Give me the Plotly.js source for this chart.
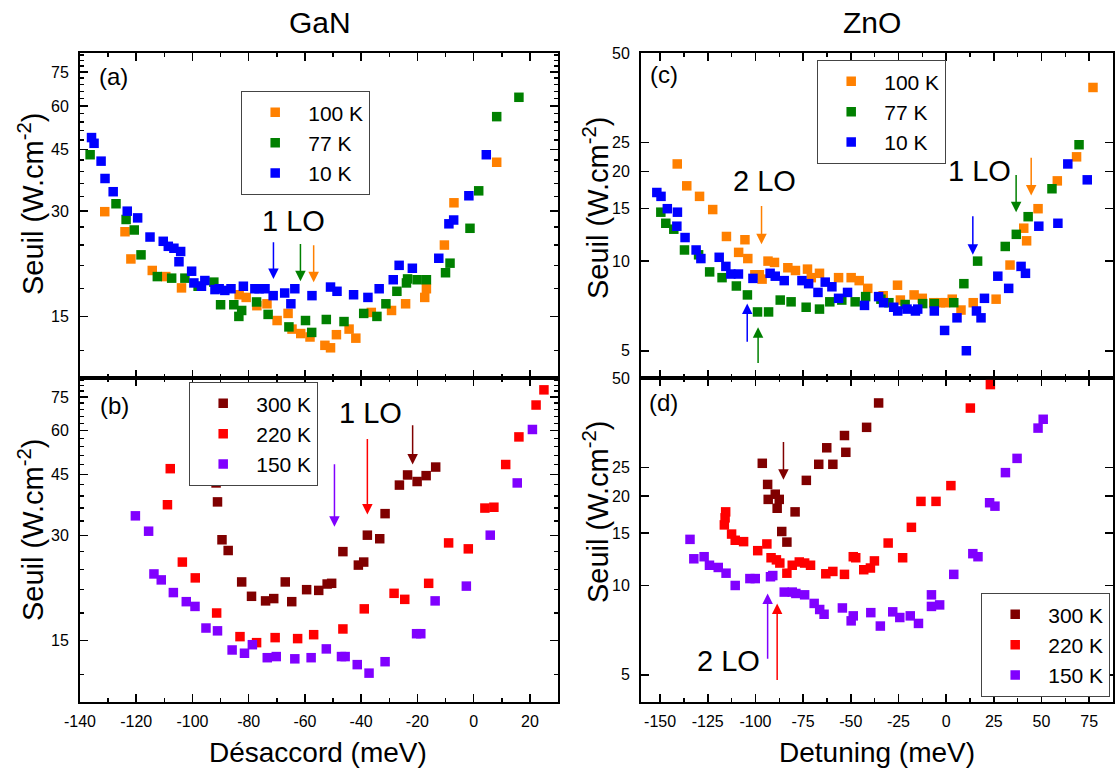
<!DOCTYPE html>
<html><head><meta charset="utf-8">
<script src="https://cdn.plot.ly/plotly-3.0.1.min.js"></script>
<style>body{margin:0;background:#fff}#chart{width:1115px;height:775px}</style>
</head><body><div id="chart"></div>
<script>
// ---------- DATA ----------
// (a) GaN, low temperature
const a100x = [-131.2,-124.0,-121.9,-114.3,-109.5,-103.9,-83.4,-80.9,-77.1,-73.5,-69.9,-66.0,-64.6,-61.5,-58.2,-52.9,-50.9,-48.8,-44.3,-41.9,-36.4,-29.2,-24.2,-17.4,-16.8,-10.4,-7.0,8.2];
const a100y = [29.9,26.2,21.9,20.3,19.5,18.1,17.3,17.0,16.1,16.3,14.6,15.3,13.8,13.4,13.1,12.4,12.2,13.3,13.8,13.0,15.4,15.6,16.3,17.0,18.0,24.0,31.7,41.4];
const a77x = [-136.4,-127.2,-123.6,-120.7,-118.3,-112.5,-107.4,-102.7,-98.0,-92.4,-90.0,-85.3,-83.5,-82.5,-77.2,-73.1,-65.7,-59.8,-57.6,-52.4,-46.1,-39.1,-34.4,-31.2,-27.3,-23.9,-23.5,-20.1,-16.8,-10.0,-8.4,-1.3,1.8,8.2,16.1];
const a77y = [43.5,31.5,28.4,26.5,22.5,19.5,19.3,19.3,18.3,18.8,16.2,16.2,15.0,15.6,16.5,15.2,14.0,14.6,13.5,14.7,14.5,15.3,15.0,16.3,17.7,18.7,19.2,19.1,19.1,20.0,21.3,26.8,34.3,55.9,63.5];
const a10x = [-135.9,-135.0,-132.5,-131.1,-128.2,-123.2,-119.5,-115.1,-110.4,-108.6,-106.6,-104.2,-104.8,-100.3,-99.5,-96.8,-95.6,-92.0,-90.5,-88.5,-86.3,-81.9,-77.8,-76.3,-74.2,-71.3,-67.2,-65.0,-63.6,-57.5,-50.9,-48.6,-42.7,-37.6,-33.6,-28.6,-26.5,-21.8,-12.4,-8.8,-7.1,-1.7,4.5];
const a10y = [48.7,46.9,41.7,37.2,34.1,30.0,28.7,25.3,24.6,23.8,23.5,23.0,21.5,20.2,18.7,18.3,19.0,17.9,18.0,17.8,18.0,18.3,18.0,18.0,18.0,17.2,17.5,16.3,18.0,17.2,18.2,17.7,17.3,17.0,18.0,19.1,21.0,20.6,22.0,27.6,28.3,33.2,43.5];
// (b) GaN, high temperature
const b300x = [-91.6,-91.1,-89.5,-87.3,-82.5,-79.0,-74.0,-71.1,-67.0,-64.7,-59.4,-55.1,-52.1,-50.5,-46.5,-41.0,-39.1,-37.8,-33.4,-31.5,-26.4,-23.5,-20.1,-16.9,-13.5];
const b300y = [42.5,37.5,29.2,27.2,22.1,20.1,19.5,19.8,22.1,19.4,21.0,20.9,21.8,21.9,27.0,24.7,25.2,30.1,29.4,34.7,41.9,44.8,42.9,44.6,47.2];
const b220x = [-107.9,-108.9,-103.6,-99.0,-91.4,-83.1,-77.2,-70.6,-62.6,-56.9,-46.5,-38.9,-28.3,-24.5,-16.0,-8.9,-1.9,4.0,7.2,11.4,16.1,22.2,25.0];
const b220y = [46.7,36.8,25.2,22.7,18.0,15.4,14.8,15.3,15.2,15.6,16.2,18.5,20.5,19.7,21.9,28.6,27.5,36.0,36.2,48.0,57.6,71.1,78.6];
const b150x = [-120.3,-115.6,-113.7,-111.1,-106.8,-102.2,-99.1,-95.2,-91.1,-85.9,-81.5,-78.7,-73.4,-70.2,-63.6,-57.8,-52.4,-47.0,-45.7,-41.4,-37.2,-31.5,-20.3,-18.8,-13.7,-2.6,5.9,15.5,20.9];
const b150y = [34.2,30.9,23.3,22.4,20.6,19.4,18.8,16.3,16.0,14.1,13.8,14.6,13.4,13.5,13.3,13.4,14.2,13.5,13.5,12.8,12.1,13.05,15.7,15.7,19.5,21.5,30.1,42.5,60.5];
// (c) ZnO, low temperature
const c100x = [-141,-136,-129.3,-122.4,-115.2,-108.8,-105.5,-104,-100.3,-98,-96.5,-93.4,-90,-83,-79,-72.7,-70.7,-66.4,-56.4,-49.8,-45.6,-41.1,-33,-25.5,-24,-16.8,-12.5,-6.5,-3,-0.3,3.2,7.8,14.2,26.2,33.5,40.7,42.2,48.2,58.3,68.4,77];
const c100y = [21.2,17.9,16.5,14.9,12.1,10.7,11.8,10.2,9.0,9.0,8.7,10.0,9.9,9.5,9.3,9.4,8.8,9.1,8.8,8.8,8.6,8.1,7.65,8.3,7.4,7.7,7.5,7.25,7.25,7.25,7.45,6.85,7.25,7.45,9.7,12.9,11.7,15.0,18.6,22.4,38.3];
const c77x = [-149.6,-147,-142.8,-137.2,-129.8,-124,-117.5,-110,-104.2,-98.9,-93.1,-87,-81.3,-73.4,-66.4,-61,-54.7,-47.7,-42.2,-34.2,-30,-21.5,-12.3,-6.2,4,9.3,16.5,31,36.8,43,55.5,69.7];
const c77y = [14.6,13.4,12.8,10.9,10.5,9.2,8.8,8.25,7.7,6.75,6.75,7.4,7.3,7.0,6.9,7.3,7.4,7.3,7.6,7.45,7.25,7.15,7.2,7.2,7.25,8.4,10.0,11.2,12.3,14.1,17.5,24.6];
const c10x = [-151.7,-149.5,-146.2,-140.9,-141.2,-136.9,-131.1,-128.6,-119,-115.5,-112.9,-108.9,-101.3,-92.3,-89.6,-84.9,-75.6,-72.1,-67.2,-63.4,-59.9,-56.4,-51.7,-42.8,-35.4,-32.8,-27.5,-25.4,-20.5,-16.1,-14.9,-6.2,-0.8,5.7,10.6,15.9,18.3,20.1,27.1,32.8,39.3,41.6,48.6,58.6,63.8,74];
const c10y = [17.0,16.5,15.0,14.6,13.1,12.0,10.9,10.2,10.3,9.6,9.05,9.05,8.75,9.1,8.9,8.6,8.6,8.4,7.85,8.5,8.2,7.5,7.85,7.1,7.6,7.25,7.0,6.8,6.9,6.8,6.9,6.8,5.85,6.45,5.0,6.8,6.45,7.5,8.9,8.1,9.6,9.1,13.1,13.4,21.2,18.75];
// (d) ZnO, high temperature
const d300x = [-96.4,-93.6,-93.3,-89.6,-87.5,-88.6,-86.2,-83.5,-79.2,-73.3,-66.8,-62.6,-59.4,-53.3,-52.6,-41.7,-35.4];
const d300y = [25.8,21.9,19.5,20.3,19.5,18.2,15.2,14.0,17.7,22.6,25.6,29.1,25.6,32.0,28.1,34.1,41.2];
const d220x = [-115.6,-115.9,-116.3,-112.5,-110.6,-106.2,-98.8,-94.0,-91.8,-89.0,-87.2,-83.5,-80.7,-77.0,-74.2,-71.1,-63.1,-59.4,-53.3,-48.7,-47.4,-43.2,-39.7,-37.6,-30.4,-22.8,-18.2,-13.2,-5.3,2.5,12.7,23.2];
const d220y = [17.7,16.9,16.0,14.9,14.2,14.05,13.1,13.8,12.4,12.2,11.9,11.0,11.7,12.0,11.9,11.7,10.95,11.15,10.9,12.5,12.4,11.3,11.45,12.1,13.9,12.4,15.7,19.2,19.2,21.7,39.6,47.5];
const d150x = [-134.3,-132.3,-126.9,-124.1,-119.5,-115.4,-110.6,-102.9,-100.1,-92.1,-90.9,-84.9,-80.7,-78.8,-74.2,-69.2,-66.3,-64.0,-54.4,-49.8,-48.7,-39.5,-34.5,-28.0,-24.3,-18.8,-14.5,-7.7,-7.7,-3.4,4.0,14.0,16.7,22.8,25.6,31.1,37.2,48.2,50.9];
const d150y = [14.3,12.3,12.5,11.7,11.5,11.0,10.0,10.55,10.55,10.7,10.8,9.5,9.5,9.4,9.3,8.7,8.3,8.0,8.4,7.6,7.9,8.1,7.3,8.15,7.8,7.9,7.45,9.3,8.5,8.6,10.9,12.8,12.5,19.0,18.5,24.0,26.8,33.9,36.3];

// LO-phonon arrows: x position, tail value, head value
const aArrX = [-71.2,-61.6,-56.9], aArrFrom = [24.7,24.4,24.2], aArrTo = [19.2,18.9,18.8];
const bArrX = [-49.5,-37.8,-21.7], bArrFrom = [48.6,57.4,62.8], bArrTo = [31.8,34.5,48.0];
const cArrX = [-96.8,-104.3,-98.6,14.0,36.7,44.6], cArrFrom = [15.5,5.3,4.5,14.3,19.7,22.5], cArrTo = [11.4,7.2,6.0,10.5,14.6,16.6];
const dArrX = [-85.3,-93.6,-88.6], dArrFrom = [30.8,5.6,4.75], dArrTo = [22.7,9.4,8.7];

// tick labels
const xTickL = [-140,-120,-100,-80,-60,-40,-20,0,20];
const xTickR = [-150,-125,-100,-75,-50,-25,0,25,50,75];
const yTickL = [15,30,45,60,75];
const yMinorL = [12,18,21,24,27,33,36,39,42,48,51,54,57,63,66,69,72,78,81,84];
const yTickR = [5,10,15,20,25,50];

// ---------- STYLE ----------
const F = 'Liberation Sans, Arial, sans-serif';
const COL = {o:'#FF8000', g:'#008000', b:'#0000FF', dr:'#800000', r:'#FF0000', p:'#8000FF'};
const W = 1115, H = 775;
const lg = v => Math.log10(v);

function sc(x, y, name, color, n, leg) {
  return {type:'scatter', mode:'markers', x:x, y:y, name:name,
    xaxis:'x'+(n===1?'':n), yaxis:'y'+(n===1?'':n), legend:leg,
    marker:{symbol:'square', size:9.5, color:color, line:{width:0}}};
}
const traces = [
  sc(a100x,a100y,'100 K',COL.o,1,'legend'),
  sc(a77x,a77y,'77 K',COL.g,1,'legend'),
  sc(a10x,a10y,'10 K',COL.b,1,'legend'),
  sc(b300x,b300y,'300 K',COL.dr,2,'legend2'),
  sc(b220x,b220y,'220 K',COL.r,2,'legend2'),
  sc(b150x,b150y,'150 K',COL.p,2,'legend2'),
  sc(c100x,c100y,'100 K',COL.o,3,'legend3'),
  sc(c77x,c77y,'77 K',COL.g,3,'legend3'),
  sc(c10x,c10y,'10 K',COL.b,3,'legend3'),
  sc(d300x,d300y,'300 K',COL.dr,4,'legend4'),
  sc(d220x,d220y,'220 K',COL.r,4,'legend4'),
  sc(d150x,d150y,'150 K',COL.p,4,'legend4')
];

const dxL = [80/W, 558/W], dxR = [641/W, 1113/W];
const yTop = [1-378/H, 1-53/H], yBot = [1-702/H, 1-378/H];

function xax(dom, range, tv, minorDt, tick0, labels, anchor) {
  return {domain:dom, range:range, tickmode:'array', tickvals:tv, ticktext:tv.map(String),
    showticklabels:labels, ticks:'inside', ticklen:8, tickwidth:1.5, tickcolor:'#000',
    minor:{tickmode:'linear', tick0:tick0, dtick:minorDt, ticks:'inside', ticklen:4, tickwidth:1.5, tickcolor:'#000'},
    showline:true, linewidth:2, linecolor:'#000', mirror:'ticks', showgrid:false, zeroline:false,
    tickfont:{family:F, size:16, color:'#000'}, ticklabelstandoff:4, anchor:anchor};
}
function yax(dom, range, tv, minorVals, anchor) {
  const o = {domain:dom, type:'log', range:range, tickmode:'array', tickvals:tv, ticktext:tv.map(String),
    ticks:'inside', ticklen:8, tickwidth:1.5, tickcolor:'#000',
    showline:true, linewidth:2, linecolor:'#000', mirror:'ticks', showgrid:false, zeroline:false,
    tickfont:{family:F, size:16, color:'#000'}, ticklabelstandoff:6, anchor:anchor};
  if (minorVals) o.minor = {tickmode:'array', tickvals:minorVals, ticks:'inside', ticklen:4, tickwidth:1.5, tickcolor:'#000'};
  return o;
}
const rL = [1, lg(85)], rR = [lg(4.05), lg(50)];

const ann = [];
function txt(text, x, y, size, xref, yref, extra) {
  ann.push(Object.assign({text:text, x:x, y:y, xref:xref, yref:yref, showarrow:false,
    font:{family:F, size:size, color:'#000'}, xanchor:'center', yanchor:'middle'}, extra||{}));
}
function arrows(xs, from, to, colors, n) {
  const xr = 'x'+(n===1?'':n), yr = 'y'+(n===1?'':n);
  xs.forEach((x,i) => ann.push({x:x, y:lg(to[i]), ax:x, ay:lg(from[i]), xref:xr, yref:yr, axref:xr, ayref:yr,
    text:'', showarrow:true, arrowhead:2, arrowsize:1.4, arrowwidth:1.5, arrowcolor:colors[i], standoff:0, startstandoff:0}));
}
arrows(aArrX, aArrFrom, aArrTo, [COL.b,COL.g,COL.o], 1);
arrows(bArrX, bArrFrom, bArrTo, [COL.p,COL.r,COL.dr], 2);
arrows(cArrX, cArrFrom, cArrTo, [COL.o,COL.b,COL.g,COL.b,COL.g,COL.o], 3);
arrows(dArrX, dArrFrom, dArrTo, [COL.dr,COL.p,COL.r], 4);

txt('1 LO', -63.9, lg(28.1), 29, 'x', 'y');
txt('1 LO', -36.6, lg(67.6), 29, 'x2', 'y2');
txt('2 LO', -95.5, lg(18.6), 29, 'x3', 'y3');
txt('1 LO', 17.3, lg(20.0), 29, 'x3', 'y3');
txt('2 LO', -114, lg(5.56), 29, 'x4', 'y4');
txt('(a)', -128, lg(73), 24, 'x', 'y');
txt('(b)', -127.7, lg(70.7), 24, 'x2', 'y2');
txt('(c)', -148.2, lg(42.5), 24, 'x3', 'y3');
txt('(d)', -148.2, lg(41.2), 24, 'x4', 'y4');
txt('GaN', 320/W, 1-22/H, 30, 'paper', 'paper');
txt('ZnO', 872/W, 1-22/H, 30, 'paper', 'paper');
txt('Désaccord (meV)', 318/W, 1-752/H, 28, 'paper', 'paper');
txt('Detuning (meV)', 877/W, 1-752/H, 28, 'paper', 'paper');
const ylab = 'Seuil (W.cm<sup>-2</sup>)';
txt(ylab, 31/W, 1-204/H, 29, 'paper', 'paper', {textangle:-90});
txt(ylab, 31/W, 1-530/H, 29, 'paper', 'paper', {textangle:-90});
txt(ylab, 596/W, 1-208/H, 29, 'paper', 'paper', {textangle:-90});
txt(ylab, 596/W, 1-512/H, 29, 'paper', 'paper', {textangle:-90});

function legBox(x, y) {
  return {x:x, y:y, xanchor:'left', yanchor:'top', xref:'paper', yref:'paper',
    bgcolor:'#fff', bordercolor:'#444', borderwidth:1.2, font:{family:F, size:21, color:'#000'},
    itemwidth:56, tracegroupgap:0, traceorder:'normal'};
}

const layout = {
  width:W, height:H, margin:{l:0, r:0, t:0, b:0},
  paper_bgcolor:'#fff', plot_bgcolor:'#fff', showlegend:true,
  font:{family:F, color:'#000'},
  xaxis: xax(dxL, [-140,30], xTickL, 10, -140, false, 'y'),
  yaxis: yax(yTop, rL, yTickL, yMinorL, 'x'),
  xaxis2: xax(dxL, [-140,30], xTickL, 10, -140, true, 'y2'),
  yaxis2: yax(yBot, rL, yTickL, yMinorL, 'x2'),
  xaxis3: xax(dxR, [-160,87.5], xTickR, 12.5, -150, false, 'y3'),
  yaxis3: yax(yTop, rR, yTickR, null, 'x3'),
  xaxis4: xax(dxR, [-160,87.5], xTickR, 12.5, -150, true, 'y4'),
  yaxis4: yax(yBot, rR, yTickR, null, 'x4'),
  legend: legBox(241/W, 1-91/H),
  legend2: legBox(189/W, 1-382/H),
  legend3: legBox(817/W, 1-60/H),
  legend4: legBox(981/W, 1-593/H),
  annotations: ann
};
Plotly.newPlot('chart', traces, layout, {staticPlot:true, displayModeBar:false});
</script></body></html>
